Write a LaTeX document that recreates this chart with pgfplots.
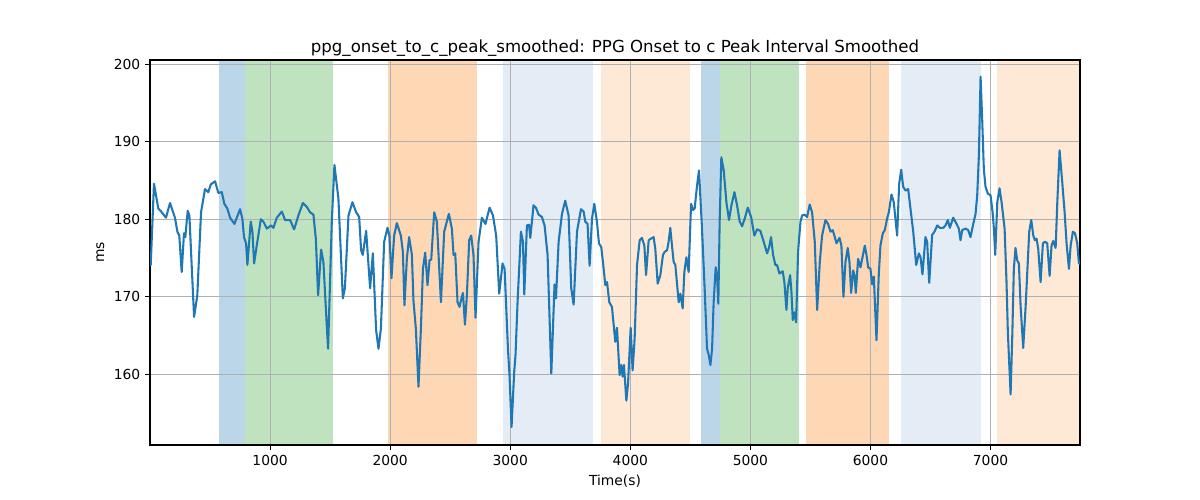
\documentclass[border=0pt]{standalone}
\usepackage{pgfplots}
\pgfplotsset{compat=1.18}
\usepackage{fontspec}
\setmainfont{DejaVu Sans}
\definecolor{tabblue}{RGB}{31,119,180}
\definecolor{spanblue}{RGB}{188,214,233}
\definecolor{spangreen}{RGB}{191,227,191}
\definecolor{spanorange}{RGB}{254,215,180}
\definecolor{lightblue}{RGB}{228,236,246}
\definecolor{lightorange}{RGB}{254,233,214}
\definecolor{gridgray}{RGB}{176,176,176}
\begin{document}
\fontsize{10}{12}\selectfont
\begin{tikzpicture}
\begin{axis}[
  set layers,
  at={(0,0)}, anchor=south west,
  scale only axis, width=9.3in, height=3.85in,
  xmin=0, xmax=7745, ymin=150.88, ymax=200.55,
  xtick={1000,2000,3000,4000,5000,6000,7000},
  ytick={160,170,180,190,200},
  grid=major, grid style={color=gridgray, line width=0.8pt},
  axis line style={line width=0.8pt},
  tick style={black, line width=0.8pt},
  tick align=outside, major tick length=3.5pt,
  tick pos=left,
  /pgf/number format/assume math mode=true,
  /pgf/number format/1000 sep={},
  tick label style={font=\fontsize{10}{12}\selectfont},
  title={ppg\_onset\_to\_c\_peak\_smoothed: PPG Onset to c Peak Interval Smoothed},
  title style={font=\fontsize{12}{14}\selectfont, yshift=-6.8pt},
  xlabel={Time(s)}, ylabel={ms},
  label style={font=\fontsize{10}{12}\selectfont},
]
\addplot[on layer=axis background, fill=spanblue, draw=none] coordinates {(575,150.88) (575,200.55) (794,200.55) (794,150.88)};
\addplot[on layer=axis background, fill=spangreen, draw=none] coordinates {(794,150.88) (794,200.55) (1528,200.55) (1528,150.88)};
\addplot[on layer=axis background, fill=spanorange, draw=none] coordinates {(1983,150.88) (1983,200.55) (2722,200.55) (2722,150.88)};
\addplot[on layer=axis background, fill=lightblue, draw=none] coordinates {(2942,150.88) (2942,200.55) (3689,200.55) (3689,150.88)};
\addplot[on layer=axis background, fill=lightorange, draw=none] coordinates {(3758,150.88) (3758,200.55) (4500,200.55) (4500,150.88)};
\addplot[on layer=axis background, fill=spanblue, draw=none] coordinates {(4592,150.88) (4592,200.55) (4744,200.55) (4744,150.88)};
\addplot[on layer=axis background, fill=spangreen, draw=none] coordinates {(4744,150.88) (4744,200.55) (5408,200.55) (5408,150.88)};
\addplot[on layer=axis background, fill=spanorange, draw=none] coordinates {(5467,150.88) (5467,200.55) (6158,200.55) (6158,150.88)};
\addplot[on layer=axis background, fill=lightblue, draw=none] coordinates {(6258,150.88) (6258,200.55) (6917,200.55) (6917,150.88)};
\addplot[on layer=axis background, fill=lightorange, draw=none] coordinates {(7056,150.88) (7056,200.55) (7745,200.55) (7745,150.88)};
\addplot[tabblue, line width=1.5pt, line join=round, mark=none] coordinates {
(0,174.1) (6,174.1) (33,184.6) (69,181.4) (98,180.9) (133,180.2) (167,182.1) (208,180.2) (228,178.4) (244,177.9) (264,173.2) (283,178.2) (294,177.7) (314,181.1) (328,180.5) (367,167.4) (394,170.2) (425,180.9) (458,183.9) (486,183.5) (506,184.5) (542,184.9) (569,183.4) (598,183.5) (619,182.0) (644,181.4) (667,180.2) (703,179.4) (750,181.3) (769,180.1) (783,177.7) (800,176.9) (811,174.1) (839,179.7) (853,178.4) (867,174.3) (889,176.6) (923,180.0) (944,179.7) (973,178.8) (1008,179.2) (1028,178.9) (1056,180.2) (1098,181.0) (1125,179.9) (1167,179.9) (1200,178.7) (1236,180.5) (1273,182.1) (1306,181.6) (1333,180.9) (1361,180.6) (1381,177.5) (1400,170.2) (1425,176.1) (1444,174.5) (1461,169.5) (1483,163.3) (1514,179.7) (1536,187.0) (1569,182.7) (1606,169.8) (1623,171.1) (1653,180.5) (1686,182.2) (1717,180.9) (1742,180.3) (1758,176.0) (1772,175.4) (1800,178.5) (1833,171.1) (1856,175.6) (1883,165.7) (1903,163.3) (1923,165.9) (1950,177.1) (1978,178.9) (1994,177.9) (2011,172.4) (2033,177.9) (2056,179.5) (2089,177.9) (2106,175.8) (2119,168.9) (2139,174.9) (2158,177.7) (2181,175.4) (2194,169.5) (2214,165.9) (2236,158.4) (2256,165.9) (2273,173.6) (2292,175.7) (2311,171.5) (2328,174.7) (2342,174.8) (2367,180.9) (2389,179.7) (2423,169.3) (2450,178.4) (2489,180.7) (2514,178.8) (2528,175.4) (2542,175.6) (2561,169.3) (2578,168.7) (2589,169.5) (2606,170.5) (2623,166.4) (2639,170.2) (2658,177.3) (2675,177.9) (2694,175.4) (2711,167.3) (2736,177.1) (2764,180.2) (2794,179.4) (2828,181.5) (2856,180.5) (2883,177.9) (2908,170.4) (2936,174.3) (2953,173.6) (2967,168.5) (2981,163.3) (2994,159.9) (3011,153.2) (3033,160.3) (3044,162.5) (3061,169.3) (3089,178.4) (3106,177.1) (3117,170.3) (3139,179.2) (3156,179.3) (3167,177.6) (3194,181.8) (3214,181.5) (3236,180.6) (3264,180.3) (3286,179.2) (3311,175.4) (3342,160.1) (3369,171.6) (3381,169.8) (3403,177.1) (3431,180.7) (3458,182.4) (3486,180.5) (3508,171.1) (3528,169.0) (3556,178.4) (3589,181.3) (3611,181.0) (3625,179.7) (3644,179.4) (3661,174.0) (3681,180.1) (3700,182.0) (3722,179.7) (3739,176.9) (3758,176.4) (3772,174.5) (3792,171.5) (3806,171.9) (3825,169.3) (3847,168.7) (3875,164.2) (3889,166.0) (3911,159.9) (3925,161.2) (3936,159.7) (3947,161.2) (3967,156.6) (3981,158.8) (4003,166.0) (4019,160.5) (4036,164.6) (4056,174.1) (4078,177.3) (4097,177.6) (4117,176.6) (4131,172.8) (4153,177.3) (4172,177.5) (4194,177.7) (4208,176.2) (4228,171.7) (4250,172.8) (4272,175.4) (4286,175.8) (4306,176.0) (4319,177.1) (4333,178.9) (4347,176.6) (4361,174.5) (4375,174.1) (4403,169.3) (4417,170.4) (4436,168.5) (4450,173.2) (4467,175.1) (4486,173.2) (4506,182.0) (4522,181.2) (4536,181.4) (4556,184.4) (4572,186.3) (4597,178.8) (4619,171.1) (4639,163.3) (4653,162.5) (4667,161.2) (4681,163.3) (4694,169.3) (4711,173.8) (4722,172.8) (4733,169.1) (4744,179.7) (4758,188.0) (4778,186.3) (4800,182.2) (4822,179.9) (4842,181.8) (4867,183.5) (4889,181.8) (4911,179.7) (4931,179.1) (4953,180.1) (4978,181.5) (5006,180.3) (5033,177.9) (5056,178.7) (5083,178.5) (5111,177.1) (5139,175.6) (5156,176.4) (5172,177.7) (5189,175.4) (5208,174.1) (5222,174.1) (5242,173.0) (5269,173.3) (5283,171.9) (5300,168.3) (5311,171.1) (5331,172.8) (5342,170.6) (5353,167.0) (5367,168.0) (5381,166.7) (5397,175.8) (5417,179.7) (5431,180.5) (5450,180.6) (5472,180.3) (5494,181.9) (5514,180.9) (5536,177.1) (5556,168.3) (5578,174.5) (5597,177.9) (5625,179.9) (5647,179.4) (5667,178.4) (5686,178.6) (5703,177.7) (5717,176.9) (5742,177.6) (5758,176.6) (5775,170.0) (5792,174.5) (5811,176.3) (5825,174.5) (5839,170.5) (5856,173.4) (5867,172.8) (5878,170.5) (5897,174.9) (5917,173.8) (5931,174.9) (5953,176.6) (5967,175.4) (5981,173.8) (6000,173.6) (6014,171.6) (6028,172.6) (6050,164.4) (6069,172.8) (6083,176.6) (6103,178.2) (6119,178.6) (6139,180.1) (6153,180.9) (6175,183.2) (6194,182.2) (6222,177.9) (6239,184.6) (6256,186.4) (6272,184.2) (6292,183.7) (6314,183.9) (6333,181.4) (6356,178.4) (6381,174.1) (6403,175.6) (6417,175.1) (6433,172.9) (6458,177.7) (6472,177.1) (6489,171.8) (6514,178.0) (6533,178.4) (6556,179.2) (6578,178.9) (6606,178.9) (6625,179.2) (6644,179.9) (6661,178.9) (6689,180.2) (6717,179.4) (6736,178.8) (6750,177.3) (6764,178.6) (6792,178.8) (6814,178.6) (6833,177.7) (6856,179.4) (6875,180.7) (6889,183.1) (6903,188.3) (6917,198.4) (6931,192.6) (6944,186.5) (6958,184.2) (6978,183.3) (7000,183.1) (7017,180.9) (7028,178.8) (7039,175.4) (7056,182.2) (7075,184.0) (7092,182.2) (7117,178.8) (7133,171.9) (7144,165.5) (7167,157.4) (7181,165.0) (7194,173.6) (7208,176.3) (7222,174.7) (7236,174.3) (7250,168.9) (7272,163.4) (7292,168.7) (7306,173.2) (7322,178.4) (7339,179.9) (7356,177.9) (7369,177.3) (7383,177.5) (7397,176.2) (7417,171.9) (7436,176.9) (7453,177.1) (7472,176.9) (7492,172.7) (7508,176.6) (7522,177.2) (7542,176.3) (7556,182.2) (7575,188.9) (7597,184.8) (7617,180.9) (7633,176.9) (7653,173.6) (7667,176.6) (7686,178.4) (7703,178.2) (7722,176.9) (7736,174.3) (7745,174.3)
};
\end{axis}
\path (-1.5in,-0.55in) rectangle (10.5in,4.45in);
\end{tikzpicture}
\end{document}
